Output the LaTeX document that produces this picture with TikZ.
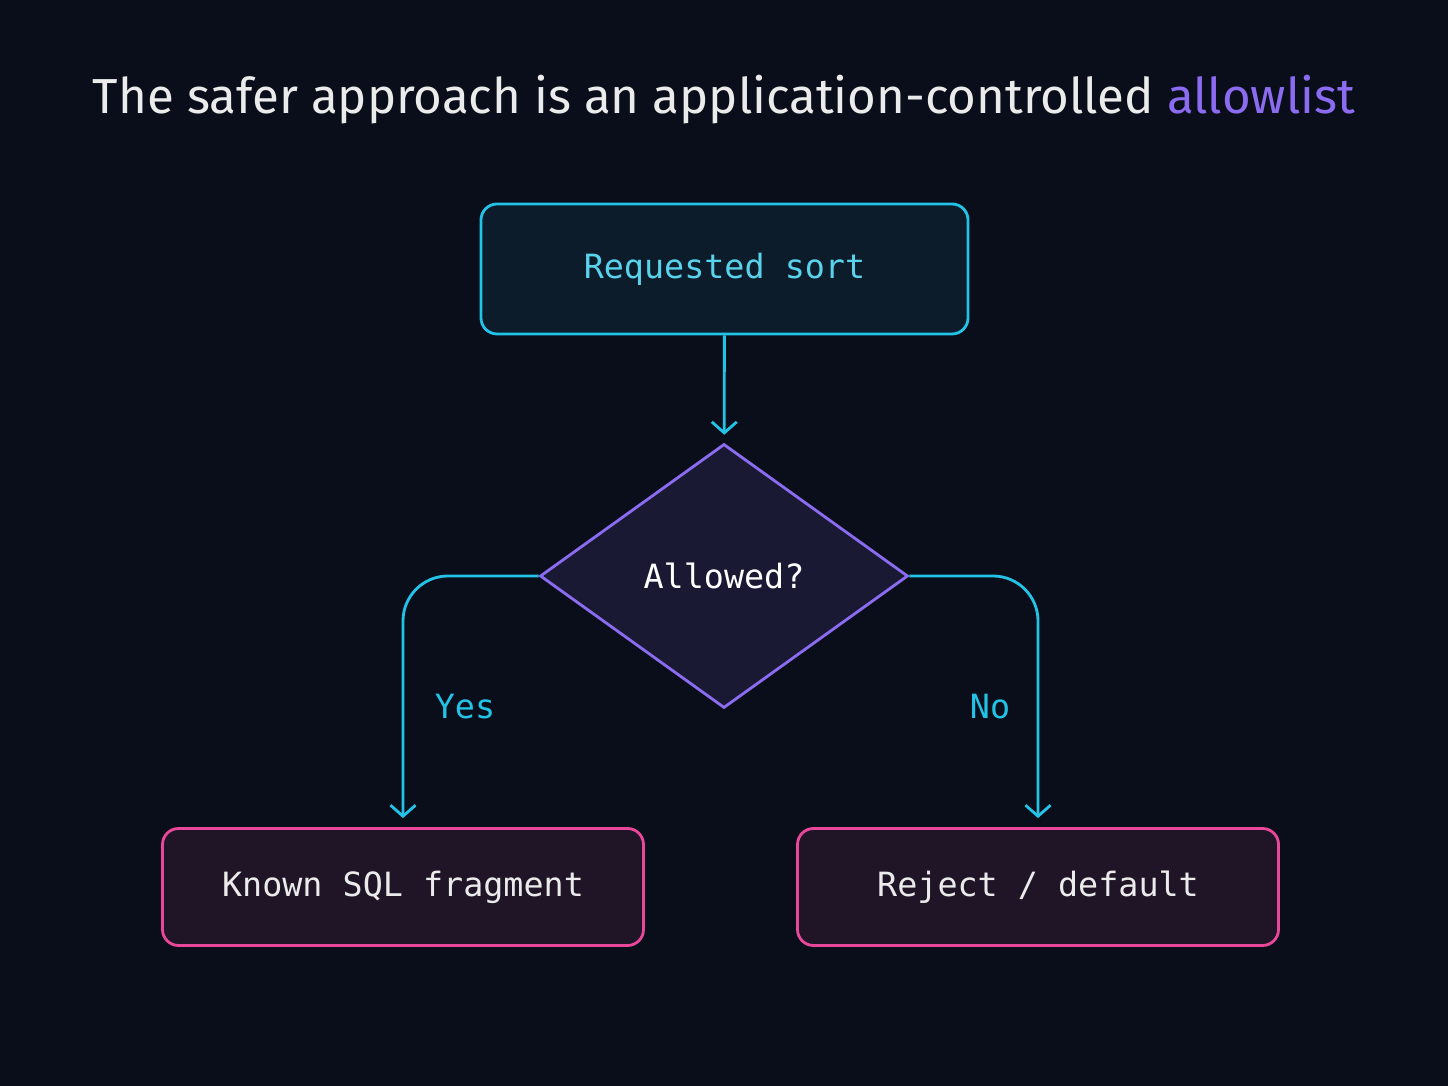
\documentclass[tikz,border=0pt]{standalone}
\usepackage{fontspec}
\setmainfont{Fira Sans}
\setmonofont{DejaVu Sans Mono}
\usetikzlibrary{shapes.geometric,arrows.meta}
\definecolor{bg}{HTML}{0A0E1A}
\definecolor{cyanline}{HTML}{22C3E6}
\definecolor{violet}{HTML}{8B6CF0}
\definecolor{pinkline}{HTML}{E8479A}
\tikzstyle{sortbox}=[
        rounded corners=0.32cm,
        line width=1.6pt,
        font=\ttfamily\fontsize{19}{22}\selectfont
]
\tikzstyle{flow}=[
        draw=cyanline,
        line width=1.6pt,
        -{Straight Barb[length=0.22cm,width=0.5cm,line width=1.6pt]}
]
\begin{document}
\begin{tikzpicture}
                        \fill[bg] (0,0) rectangle (28.96,21.72);
                        \useasboundingbox (0,0) rectangle (28.96,21.72);

                        \node (title) at (14.48,19.72) {\fontsize{28}{32}\selectfont\color{white!92!black}The safer approach is an application-controlled \textcolor{violet}{allowlist}};

                        \node[sortbox, draw=cyanline, fill=cyanline!8!bg, text=cyanline!75!white,
                              minimum width=9.74cm, minimum height=2.6cm] (req) at (14.49,16.34) {Requested sort};
                        \node[draw=violet, fill=violet!12!bg, line width=1.6pt, shape=diamond, inner sep=0pt,
                              minimum width=7.36cm, minimum height=5.28cm, text=white,
                              font=\ttfamily\fontsize{19}{22}\selectfont] (allow) at (14.48,10.2) {Allowed?};
                        \node[sortbox, draw=pinkline, fill=pinkline!10!bg, text=white!92!black,
                              minimum width=9.62cm, minimum height=2.34cm] (known) at (8.06,3.98) {Known SQL fragment};
                        \node[sortbox, draw=pinkline, fill=pinkline!10!bg, text=white!92!black,
                              minimum width=9.62cm, minimum height=2.34cm] (reject) at (20.76,3.98) {Reject / default};

                        \draw[flow, shorten >=0.16cm] (req) -- (allow);
                        \draw[flow, rounded corners=0.9cm, shorten >=0.18cm] (allow.west) -| (known.north);
                        \draw[flow, rounded corners=0.9cm, shorten >=0.18cm] (allow.east) -| (reject.north);

                        \node[text=cyanline, font=\ttfamily\fontsize{19}{22}\selectfont] (yes) at (9.3,7.58) {Yes};
                        \node[text=cyanline, font=\ttfamily\fontsize{19}{22}\selectfont] (no) at (19.8,7.58) {No};
                    \end{tikzpicture}
\end{document}
